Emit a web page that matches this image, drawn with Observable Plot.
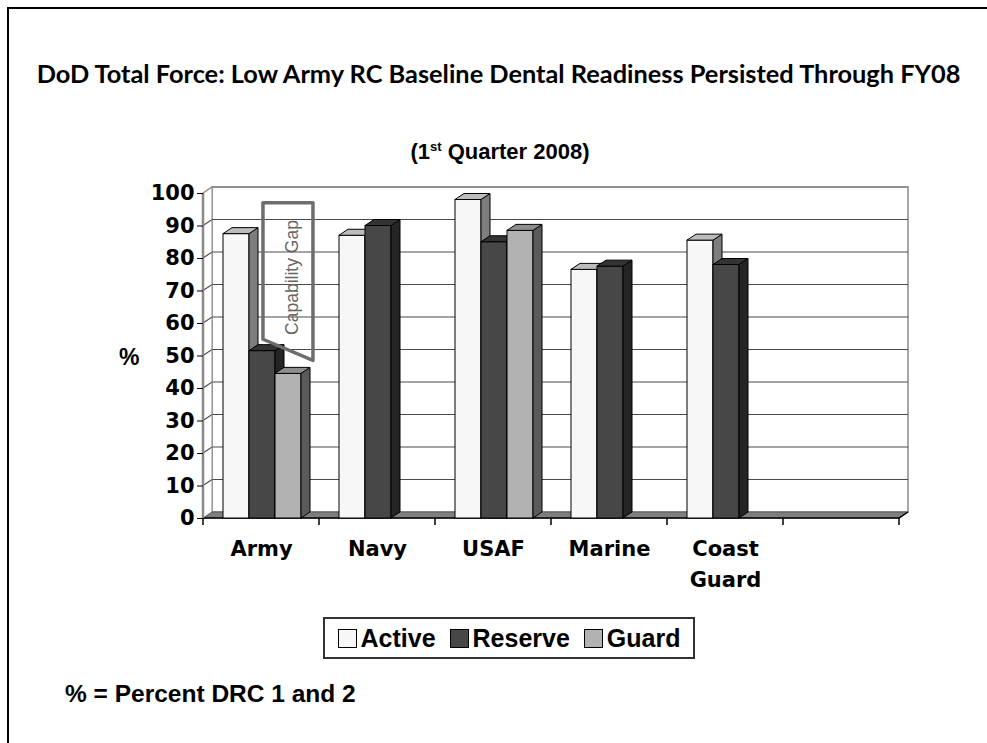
<!DOCTYPE html>
<html>
<head>
<meta charset="utf-8">
<script src="https://cdn.jsdelivr.net/npm/d3@7"></script>
<script src="https://cdn.jsdelivr.net/npm/@observablehq/plot@0.6"></script>
<style>
  html, body { margin: 0; padding: 0; background: #fff; }
  #page { position: relative; width: 987px; height: 743px; overflow: hidden; background: #fff;
          font-family: "Liberation Sans", Arial, sans-serif; color: #000; }
  #border { position: absolute; left: 7px; top: 7px; width: 1000px; height: 760px;
            border-left: 2px solid #000; border-top: 2px solid #000; }
  #title { position: absolute; left: 0; width: 997px; top: 58px; text-align: center; white-space: nowrap;
           font-family: "Lato", "Open Sans", sans-serif; font-weight: bold; font-size: 22px; line-height: 30px; }
  #subtitle { position: absolute; left: 0; width: 1000px; top: 138px; text-align: center;
              font-weight: bold; font-size: 22px; line-height: 28px; }
  #subtitle sup { font-size: 13px; vertical-align: 8px; line-height: 0; }
  #chart { position: absolute; left: 0; top: 170px; }
  #ylabel { position: absolute; left: 119px; top: 344px; font-weight: bold; font-size: 23px; }
  #legend { position: absolute; left: 323px; top: 617px; width: 368px; height: 38px; border: 2px solid #333;
            box-sizing: content-box; display: flex; align-items: center; justify-content: center;
            font-weight: bold; font-size: 25px; white-space: nowrap; }
  #legend .item { display: flex; align-items: center; margin: 0 7px; }
  #legend .sw { width: 17px; height: 17px; border: 1px solid #000; margin-right: 4px; display: inline-block; }
  #note { position: absolute; left: 65px; top: 680px; font-weight: bold; font-size: 24.5px; line-height: 28px; white-space: nowrap; }
</style>
</head>
<body>
<div id="page">
  <div id="border"></div>
  <div id="title">DoD Total Force: Low Army RC Baseline Dental Readiness Persisted Through FY08</div>
  <div id="subtitle">(1<sup>st</sup> Quarter 2008)</div>
  <div id="chart"></div>
  <div id="ylabel">%</div>
  <div id="legend"></div>
  <div id="note">% = Percent DRC 1 and 2</div>
</div>
<script>
// ---------------- data ----------------
const categories = ["Army", "Navy", "USAF", "Marine", "Coast Guard"];
const categoryLabels = ["Army", "Navy", "USAF", "Marine", "Coast\nGuard"];
const series = ["Active", "Reserve", "Guard"];
const activeValues  = [87.5, 87, 98, 76.5, 85.5];
const reserveValues = [51.5, 90, 85, 77.5, 78];
const guardValues   = [44.5, null, 88.5, null, null];
const yTicks = [0, 10, 20, 30, 40, 50, 60, 70, 80, 90, 100];
const gapLabel = "Capability Gap";
const gapValues = { top: 97, bottomLeft: 55, bottomRight: 48.5, textCenter: 74 };

// ---------------- styles ----------------
const seriesColors = {
  Active:  { front: "#f7f7f7", top: "#bcbcbc", side: "#7e7e7e" },
  Reserve: { front: "#474747", top: "#333333", side: "#252525" },
  Guard:   { front: "#b2b2b2", top: "#8e8e8e", side: "#5b5b5b" }
};
const DX = 9, DY = -6;               // 3-D depth offset in pixels
const SLOT0 = 20, SLOTW = 26;        // bar slot offset / width inside a 116px band

const valuesBySeries = { Active: activeValues, Reserve: reserveValues, Guard: guardValues };
const rowsBySeries = {};
for (const s of series) {
  rowsBySeries[s] = categories
    .map((c, i) => ({ category: c, series: s, value: valuesBySeries[s][i] }))
    .filter(d => d.value != null);
}
const xDomain = [...categories, "_spare"];

const W = 987, H = 430;
const mL = 203, mR = 88, mT = 23, mB = 82;

function walls(index, scales) {
  const g = d3.create("svg:g");
  const x = scales.x, y = scales.y;
  const bw = x.bandwidth();
  const xL = x(xDomain[0]), xR = x(xDomain[xDomain.length - 1]) + bw;
  const y0 = y(0), yT = y(100);
  const pts = a => a.map(p => p.join(",")).join(" ");
  // back wall
  g.append("polygon").attr("points", pts([[xL + DX, yT + DY], [xR + DX, yT + DY], [xR + DX, y0 + DY], [xL + DX, y0 + DY]]))
    .attr("fill", "#fff").attr("stroke", "#8a8a8a").attr("stroke-width", 1.5);
  // left wall
  g.append("polygon").attr("points", pts([[xL, yT], [xL + DX, yT + DY], [xL + DX, y0 + DY], [xL, y0]]))
    .attr("fill", "#fff").attr("stroke", "none");
  // gridlines
  for (const v of yTicks) {
    if (v === 0) continue;
    g.append("polyline").attr("points", pts([[xL, y(v)], [xL + DX, y(v) + DY], [xR + DX, y(v) + DY]]))
      .attr("fill", "none").attr("stroke", v === 100 ? "#8a8a8a" : "#4a4a4a").attr("stroke-width", v === 100 ? 1.5 : 1.2);
  }
  g.append("line").attr("x1", xL + DX).attr("x2", xL + DX).attr("y1", yT + DY).attr("y2", y0 + DY)
    .attr("stroke", "#8a8a8a").attr("stroke-width", 1);
  // floor
  g.append("polygon").attr("points", pts([[xL, y0], [xR, y0], [xR + DX, y0 + DY], [xL + DX, y0 + DY]]))
    .attr("fill", "#7f7f7f").attr("stroke", "#5a5a5a").attr("stroke-width", 1);
  g.append("polyline").attr("points", pts([[xL, y0], [xR, y0], [xR + DX, y0 + DY]]))
    .attr("fill", "none").attr("stroke", "#000").attr("stroke-width", 1.5);
  // front y axis line
  g.append("line").attr("x1", xL).attr("x2", xL).attr("y1", yT).attr("y2", y0)
    .attr("stroke", "#8a8a8a").attr("stroke-width", 2.5);
  // x ticks at band boundaries
  for (let k = 0; k <= xDomain.length; k++) {
    const xx = xL + k * bw;
    g.append("line").attr("x1", xx).attr("x2", xx).attr("y1", y0).attr("y2", y0 + 7)
      .attr("stroke", "#000").attr("stroke-width", 1.5);
  }
  return g.node();
}

function faces(s, i) {
  const col = seriesColors[s];
  return (index, scales) => {
    const g = d3.create("svg:g");
    const pts = a => a.map(p => p.join(",")).join(" ");
    for (const r of rowsBySeries[s]) {
      const x0 = scales.x(r.category) + SLOT0 + i * SLOTW, x1 = x0 + SLOTW;
      const yt = scales.y(r.value), yb = scales.y(0);
      g.append("polygon").attr("points", pts([[x1, yt], [x1 + DX, yt + DY], [x1 + DX, yb + DY], [x1, yb]]))
        .attr("fill", col.side).attr("stroke", "#000").attr("stroke-width", 1).attr("stroke-linejoin", "round");
      g.append("polygon").attr("points", pts([[x0, yt], [x1, yt], [x1 + DX, yt + DY], [x0 + DX, yt + DY]]))
        .attr("fill", col.top).attr("stroke", "#000").attr("stroke-width", 1).attr("stroke-linejoin", "round");
    }
    return g.node();
  };
}

function gapCallout(index, scales) {
  const g = d3.create("svg:g");
  const x = scales.x, y = scales.y;
  const bw = x.bandwidth();
  const xa = x("Army");
  const xl = xa + bw * 0.517, xr = xa + bw * 0.948, xt = xa + bw * 0.77;
  const pts = a => a.map(p => p.join(",")).join(" ");
  g.append("polygon").attr("points", pts([[xl, y(gapValues.top)], [xr, y(gapValues.top)], [xr, y(gapValues.bottomRight)], [xl, y(gapValues.bottomLeft)]]))
    .attr("fill", "none").attr("stroke", "#6e6e6e").attr("stroke-width", 3.5).attr("stroke-linejoin", "round");
  g.append("text").attr("transform", `translate(${xt},${y(gapValues.textCenter)}) rotate(-90)`)
    .attr("text-anchor", "middle").attr("dy", "0.35em")
    .attr("font-family", "Liberation Sans, Arial, sans-serif").attr("font-size", 17.5).attr("fill", "#666")
    .text(gapLabel);
  return g.node();
}

const marks = [walls];
series.forEach((s, i) => {
  marks.push(Plot.barY(rowsBySeries[s], {
    x: "category", y: "value",
    fill: seriesColors[s].front, stroke: "#000", strokeWidth: 1,
    insetLeft: SLOT0 + i * SLOTW, insetRight: 116 - SLOT0 - (i + 1) * SLOTW
  }));
  marks.push(faces(s, i));
});
marks.push(gapCallout);
marks.push(Plot.axisY({
  ticks: yTicks, tickSize: 6, tickPadding: 3, label: null,
  fontSize: 21, fontWeight: "bold", fontFamily: "DejaVu Sans", stroke: "#000", strokeWidth: 1
}));
marks.push(Plot.text(categories, {
  x: d => d, y: () => 0, text: (d, i) => categoryLabels[i],
  lineAnchor: "top", dy: 15, lineHeight: 1.5,
  fontSize: 21, fontWeight: "bold", fontFamily: "DejaVu Sans", fill: "#000"
}));

const chart = Plot.plot({
  width: W, height: H,
  marginLeft: mL, marginRight: mR, marginTop: mT, marginBottom: mB,
  style: { background: "transparent", overflow: "visible" },
  x: { domain: xDomain, padding: 0, axis: null },
  y: { domain: [0, 100], axis: null },
  marks
});
document.getElementById("chart").appendChild(chart);

// legend
const legend = document.getElementById("legend");
for (const s of series) {
  const it = document.createElement("span");
  it.className = "item";
  const sw = document.createElement("span");
  sw.className = "sw";
  sw.style.background = seriesColors[s].front;
  it.appendChild(sw);
  it.appendChild(document.createTextNode(s));
  legend.appendChild(it);
}

// fit title width to the reference (~924px)
const t = document.getElementById("title");
const span = document.createElement("span");
span.textContent = t.textContent; t.textContent = ""; t.appendChild(span);
const wNow = span.getBoundingClientRect().width;
if (wNow > 0) t.style.fontSize = (22 * 924 / wNow).toFixed(2) + "px";
</script>
</body>
</html>
